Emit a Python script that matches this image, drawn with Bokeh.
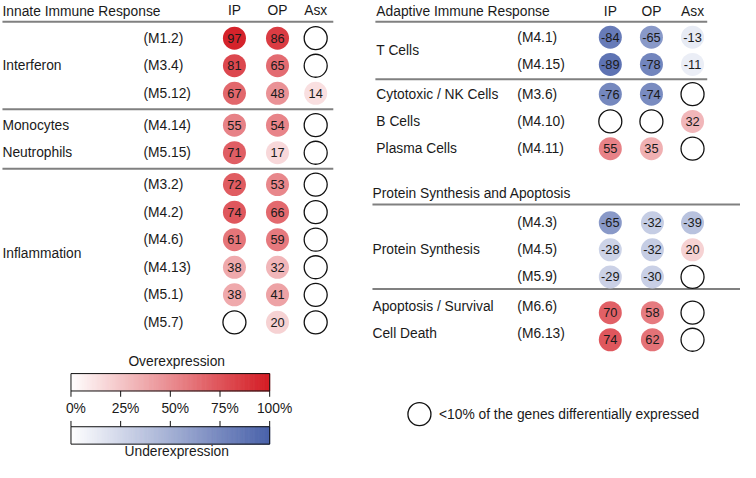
import numpy as np
from bokeh.plotting import figure
from bokeh.models import Range1d, ColumnDataSource
from bokeh.core.properties import value
from bokeh.embed import file_html
from bokeh.resources import INLINE

FONT = "Liberation Sans"

# ------------------------------------------------------------------ data
columns = ["IP", "OP", "Asx"]

# Innate Immune Response
innate_categories = ["Interferon", "Monocytes", "Neutrophils", "Inflammation"]
innate_cat_sizes = [3, 1, 1, 6]
innate_cat_block = [0, 1, 1, 2]
innate_modules = ["(M1.2)", "(M3.4)", "(M5.12)", "(M4.14)", "(M5.15)", "(M3.2)",
                  "(M4.2)", "(M4.6)", "(M4.13)", "(M5.1)", "(M5.7)"]
innate_ip = [97, 81, 67, 55, 71, 72, 74, 61, 38, 38, None]
innate_op = [86, 65, 48, 54, 17, 53, 66, 59, 32, 41, 20]
innate_asx = [None, None, 14, None, None, None, None, None, None, None, None]

# Adaptive Immune Response
adaptive_categories = ["T Cells", "Cytotoxic / NK Cells", "B Cells", "Plasma Cells"]
adaptive_cat_sizes = [2, 1, 1, 1]
adaptive_cat_block = [0, 1, 1, 1]
adaptive_modules = ["(M4.1)", "(M4.15)", "(M3.6)", "(M4.10)", "(M4.11)"]
adaptive_ip = [-84, -89, -76, None, 55]
adaptive_op = [-65, -78, -74, None, 35]
adaptive_asx = [-13, -11, None, 32, None]

# Protein Synthesis and Apoptosis
protein_categories = ["Protein Synthesis", "Apoptosis / Survival", "Cell Death"]
protein_cat_sizes = [3, 1, 1]
protein_cat_block = [0, 1, 1]
protein_modules = ["(M4.3)", "(M4.5)", "(M5.9)", "(M6.6)", "(M6.13)"]
protein_ip = [-65, -28, -29, 70, 74]
protein_op = [-32, -32, -30, 58, 62]
protein_asx = [-39, 20, None, None, None]

legend_ticks = [0, 25, 50, 75, 100]
legend_tick_labels = ["0%", "25%", "50%", "75%", "100%"]

# ------------------------------------------------------------------ style
RED = np.array([212, 28, 36])
BLUE = np.array([74, 98, 170])
WHITE = np.array([255, 255, 255])
LINE_GRAY = "#808080"
TXT = "#1a1a1a"
LABEL_SIZE = "13.8px"
NUM_SIZE = "12.8px"
DOT = 23


def shade(v):
    t = min(abs(v), 100) / 100.0
    base = RED if v > 0 else BLUE
    c = WHITE + t * (base - WHITE)
    return "#%02x%02x%02x" % tuple(int(round(x)) for x in c)


p = figure(width=740, height=462, x_range=Range1d(0, 756), y_range=Range1d(478, 0),
           output_backend="svg", toolbar_location=None, min_border=0,
           x_axis_type=None, y_axis_type=None)
p.grid.visible = False
p.outline_line_color = None
p.background_fill_color = "white"


def panel(title, title_xy, head_y, line_y, line_x, cat_x, mod_x, col_x,
          cats, cat_sizes, cat_block, modules, ip, op, asx,
          first_y, step, gap, sep_dy=0.0, block_text_dy=(0, 0, 0)):
    n = len(modules)
    row_block = []
    for size, b in zip(cat_sizes, cat_block):
        row_block += [b] * size
    ys = [first_y + step * i + gap * row_block[i] for i in range(n)]
    text_dy = [block_text_dy[row_block[i]] for i in range(n)]

    p.text(x=[title_xy[0]], y=[title_xy[1]], text=[title], text_font=value(FONT),
           text_font_size=LABEL_SIZE, text_align="left", text_baseline="middle",
           text_color=TXT)
    if head_y is not None:
        p.text(x=col_x, y=[head_y] * 3, text=columns, text_font=value(FONT),
               text_font_size=LABEL_SIZE, text_align="center", text_baseline="middle",
               text_color=TXT)
    seps = [line_y]
    for i in range(1, n):
        if row_block[i] != row_block[i - 1]:
            seps.append((ys[i - 1] + ys[i]) / 2 + sep_dy)
    p.segment(x0=[line_x[0]] * len(seps), x1=[line_x[1]] * len(seps), y0=seps, y1=seps,
              line_color=LINE_GRAY, line_width=2)

    cy, start = [], 0
    for size in cat_sizes:
        rows = range(start, start + size)
        cy.append(np.mean([ys[r] + text_dy[r] for r in rows]))
        start += size
    p.text(x=[cat_x] * len(cats), y=cy, text=cats, text_font=value(FONT),
           text_font_size=LABEL_SIZE, text_align="left", text_baseline="middle",
           text_color=TXT)
    p.text(x=[mod_x] * n, y=[y + d for y, d in zip(ys, text_dy)], text=modules,
           text_font=value(FONT), text_font_size=LABEL_SIZE, text_align="left",
           text_baseline="middle", text_color=TXT)

    fx, fy, fc, ft, ex, ey = [], [], [], [], [], []
    for cx, vals in zip(col_x, (ip, op, asx)):
        for y, v in zip(ys, vals):
            if v is None:
                ex.append(cx); ey.append(y)
            else:
                fx.append(cx); fy.append(y); fc.append(shade(v)); ft.append(str(v))
    src = ColumnDataSource(dict(x=fx, y=fy, c=fc, t=ft))
    p.scatter("x", "y", source=src, size=DOT, fill_color="c", line_color=None)
    p.text("x", "y", text="t", source=src, text_font=value(FONT), text_font_size=NUM_SIZE,
           text_align="center", text_baseline="middle", text_color=TXT)
    p.scatter(ex, ey, size=DOT, fill_color="white", line_color="#111111", line_width=1.3)


panel("Innate Immune Response", (2, 11), 10, 22, (2, 340), 2, 146, [239, 283, 322],
      innate_categories, innate_cat_sizes, innate_cat_block, innate_modules,
      innate_ip, innate_op, innate_asx, first_y=39, step=28.5, gap=4.5)

panel("Adaptive Immune Response", (384, 11), 11, 22, (383, 722), 384, 528, [623, 665, 707],
      adaptive_categories, adaptive_cat_sizes, adaptive_cat_block, adaptive_modules,
      adaptive_ip, adaptive_op, adaptive_asx, first_y=38, step=28.2, gap=2.5)

panel("Protein Synthesis and Apoptosis", (380, 200), None, 211, (380, 756), 380, 528,
      [623, 666, 707],
      protein_categories, protein_cat_sizes, protein_cat_block, protein_modules,
      protein_ip, protein_op, protein_asx, first_y=230, step=28, gap=9, sep_dy=-6,
      block_text_dy=(0, -6))

# ------------------------------------------------------------------ legend
bx0, bx1 = 72, 275
red_top, red_bot = 386, 404
blue_top, blue_bot = 441, 459
N = 120
edges = np.linspace(0, 100, N + 1)
gx = bx0 + (bx1 - bx0) * edges / 100
mids = (edges[:-1] + edges[1:]) / 2
red_cols = [shade(m) for m in mids]
blue_cols = [shade(-m) for m in mids]
p.quad(left=gx[:-1], right=gx[1:], top=[red_top] * N, bottom=[red_bot] * N,
       fill_color=red_cols, line_color=red_cols, line_width=1)
p.quad(left=gx[:-1], right=gx[1:], top=[blue_top] * N, bottom=[blue_bot] * N,
       fill_color=blue_cols, line_color=blue_cols, line_width=1)
p.quad(left=[bx0, bx0], right=[bx1, bx1], top=[red_top, blue_top], bottom=[red_bot, blue_bot],
       fill_color=None, line_color="#111111", line_width=1)
tx = [bx0 + (bx1 - bx0) * t / 100 for t in legend_ticks]
p.segment(x0=tx, x1=tx, y0=[red_bot] * 5, y1=[red_bot + 6] * 5, line_color="#111111", line_width=1)
p.segment(x0=tx, x1=tx, y0=[blue_top - 6] * 5, y1=[blue_top] * 5, line_color="#111111", line_width=1)
p.text(x=[x + 5 for x in tx], y=[422] * 5, text=legend_tick_labels, text_font=value(FONT),
       text_font_size=LABEL_SIZE, text_align="center", text_baseline="middle", text_color=TXT)
p.text(x=[180, 180], y=[373, 467], text=["Overexpression", "Underexpression"],
       text_font=value(FONT), text_font_size=LABEL_SIZE, text_align="center",
       text_baseline="middle", text_color=TXT)

p.scatter([428], [428], size=DOT, fill_color="white", line_color="#111111", line_width=1.3)
p.text(x=[448], y=[428], text=["<10% of the genes differentially expressed"],
       text_font=value(FONT), text_font_size=LABEL_SIZE, text_align="left",
       text_baseline="middle", text_color=TXT)

open("out.html", "w").write(file_html(p, INLINE))
